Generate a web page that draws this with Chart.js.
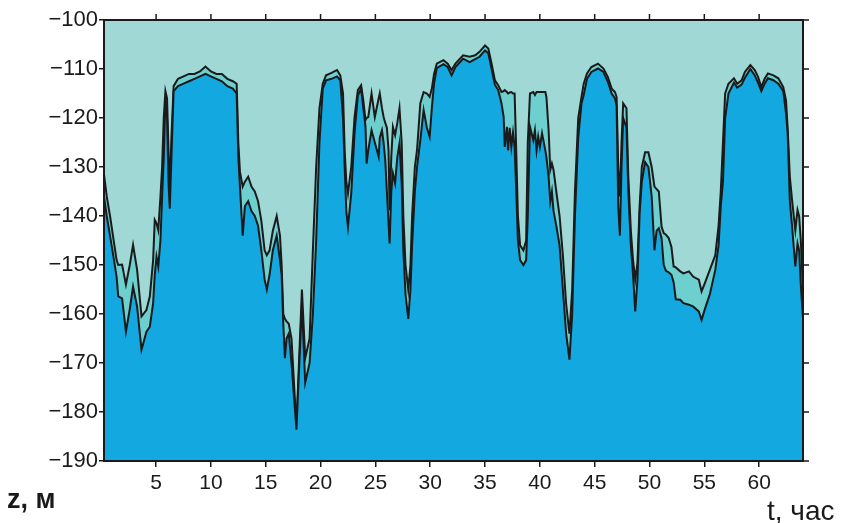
<!DOCTYPE html>
<html><head><meta charset="utf-8">
<script src="https://cdn.jsdelivr.net/npm/chart.js@4.4.1/dist/chart.umd.min.js"></script>
<style>html,body{margin:0;padding:0;background:#fff}</style>
</head><body>
<canvas id="c" width="842" height="523"></canvas>
<script>
// time, hours
const hours = [0.25,0.5,0.8,1.2,1.4,1.55,1.9,2.25,2.6,2.9,3.27,3.67,4.12,4.43,4.73,4.88,5.04,5.2,5.4,5.55,5.7,5.85,6.0,6.15,6.25,6.4,6.6,7.0,7.5,8.0,8.5,9.0,9.5,10.0,10.5,11.0,11.5,12.0,12.35,12.5,12.65,12.9,13.1,13.4,13.7,14.0,14.3,14.6,14.9,15.1,15.35,15.65,16.0,16.3,16.45,16.6,16.75,16.9,17.1,17.35,17.8,18.3,18.6,19.0,19.3,19.6,19.9,20.2,20.5,21.0,21.5,21.8,22.05,22.2,22.35,22.5,22.8,23.1,23.4,23.7,23.9,24.1,24.2,24.35,24.65,24.95,25.3,25.4,25.6,25.75,25.9,26.05,26.2,26.3,26.45,26.6,26.8,27.0,27.2,27.4,27.55,27.75,28.0,28.2,28.35,28.6,28.8,29.1,29.4,29.7,29.95,30.15,30.35,30.6,31.2,31.6,31.95,32.3,33.0,33.6,34.1,34.5,35.0,35.3,35.6,35.9,36.2,36.5,36.7,36.8,37.0,37.1,37.25,37.4,37.55,37.7,37.85,38.0,38.2,38.5,38.75,38.9,39.1,39.4,39.55,39.7,39.85,40.0,40.2,40.5,40.6,40.8,40.95,41.1,41.25,41.5,41.8,42.1,42.4,42.7,42.95,43.2,43.5,43.8,44.0,44.3,44.7,45.3,45.8,46.2,46.55,46.85,47.0,47.15,47.3,47.45,47.6,47.9,48.07,48.3,48.5,48.7,48.9,49.1,49.3,49.6,49.9,50.2,50.45,50.65,50.85,51.1,51.3,51.5,51.75,52.0,52.2,52.4,52.8,53.1,53.6,54.0,54.5,54.75,55.05,55.5,56.0,56.3,56.5,56.7,56.9,57.2,57.7,58.0,58.4,58.7,59.2,59.6,59.9,60.2,60.5,60.8,61.3,61.75,62.2,62.45,62.6,62.8,63.0,63.3,63.5,63.65,63.8,64.0];
// upper boundary, m
const zTop = [-131.5,-136,-140,-146,-149,-150,-149.9,-154,-150,-145.9,-151,-160.5,-159.2,-156.4,-149,-140.8,-141.5,-142.9,-136,-130,-120,-114.5,-116,-128,-134,-124,-113.5,-112,-111.5,-111,-111,-110.5,-109.5,-110.5,-111,-111,-112,-112.5,-113,-125,-131,-134,-133,-132,-134,-135,-137,-141,-147,-148,-147,-143,-140,-144,-150,-160,-161,-161.5,-162,-165,-183,-155,-169,-165,-147,-130,-118,-113,-111.3,-110.8,-110.2,-111.3,-115,-126.6,-133,-135.4,-130,-119.8,-114.3,-113.3,-116.4,-120.4,-120,-119.8,-115,-119.8,-116,-115,-118,-119.8,-121,-122,-126.6,-138.8,-128,-121.8,-123.5,-121,-118,-125,-140,-150,-155,-150,-140,-130,-126.5,-117,-114.7,-115,-115.7,-114,-111,-108.9,-108.2,-108.9,-110.2,-108.9,-107.2,-107.5,-107.2,-106.5,-105.2,-105.8,-108.9,-112.3,-113.3,-114.7,-114.5,-114.3,-114.7,-115,-114.8,-114.7,-115,-115,-127,-140,-146,-147,-145,-125,-115,-114.7,-115.3,-114.7,-114.7,-114.7,-114.7,-114.7,-115.7,-122.5,-130.6,-129.3,-130.6,-135,-140,-148,-158,-164,-155,-135,-120,-115.7,-113,-110.9,-109.6,-108.9,-109.9,-111.6,-114,-114.7,-115.7,-130,-136,-125,-117,-118,-132,-143,-149,-153,-149.6,-138,-130,-127,-127,-130,-134,-134.5,-135,-142.2,-143.5,-143.8,-144.5,-146.3,-150.3,-150.5,-151.3,-151.7,-151.3,-152.4,-153,-155.4,-153.7,-151,-148,-142,-135,-125,-115,-113,-111.9,-113,-112.3,-110.6,-109.2,-110.2,-111.6,-113.7,-112,-110.9,-111.3,-111.9,-113.7,-116.4,-122,-132,-136.7,-142.9,-138.8,-140.1,-145,-155];
// lower boundary, m
const zBottom = [-136,-140,-144,-149.5,-152.4,-156.4,-156.8,-163.6,-159,-154.4,-158.5,-167.3,-163.6,-162.6,-157.8,-152,-148.3,-150.3,-144.9,-136,-128,-116,-120,-134,-138.5,-128,-114.5,-113.5,-113,-112.5,-112,-111.5,-111,-111.5,-112,-112.5,-113.5,-114,-115,-128,-134,-144,-138,-137,-139,-140,-142,-147,-153,-155,-152,-147,-144,-149,-152,-162,-169,-165,-164,-170,-183.6,-158,-174,-170,-160,-145,-125,-114,-112.3,-112,-111.5,-112.3,-120,-130,-139,-142.2,-135.4,-123.1,-115.4,-114,-118,-121.8,-129.3,-126.6,-122.5,-125,-127.9,-124,-122.5,-125,-128.6,-135,-141.5,-145.6,-135,-131.3,-133.3,-128,-125.2,-133.3,-147,-156,-161,-155,-146,-135,-130,-124.5,-118.4,-122,-123.8,-118,-113,-109.8,-109,-109.6,-111.3,-109.6,-107.9,-108.6,-108,-107.5,-106.2,-106.8,-110,-113.2,-114.3,-117,-119.8,-125.9,-121.8,-126.6,-122,-125.9,-123,-126,-135,-145,-149,-150,-149,-140,-121.8,-124.5,-122.5,-126.6,-123.8,-125.9,-123.1,-126.6,-128,-132,-137,-135,-139,-142,-146,-155,-164,-169.3,-160,-140,-124,-117,-115.3,-112,-110.6,-109.9,-110.6,-112.6,-115,-116,-117.5,-138,-144,-130,-120,-122,-135,-146,-152,-159.5,-153,-139.5,-133,-129,-130,-136,-147,-143,-142.5,-144.5,-150,-151.2,-151.5,-152,-153.5,-157,-157.1,-157.8,-158.1,-158.5,-159.5,-161.2,-159,-156,-151,-146,-138,-133,-120,-115,-112.8,-113.8,-113.2,-111.8,-110,-111.3,-112.8,-114.5,-113,-111.9,-112.3,-113,-114.5,-119,-123.1,-137,-142,-150.3,-145.6,-147,-154,-161];
const xTickValues = [5,10,15,20,25,30,35,40,45,50,55,60];
const yTickValues = [-190,-180,-170,-160,-150,-140,-130,-120,-110,-100];
const xTitle = 't, час';
const yTitle = 'z, м';

const FONT = "'Liberation Sans', Arial, sans-serif";
const INK = '#1a1a1a';

const bgPlugin = {
  id: 'bg',
  beforeDraw(chart) {
    const {ctx, chartArea: a} = chart;
    ctx.save();
    ctx.fillStyle = '#9fd8d5';
    ctx.fillRect(a.left, a.top, a.right - a.left, a.bottom - a.top);
    ctx.restore();
  }
};
const framePlugin = {
  id: 'frame',
  afterDraw(chart) {
    const {ctx, chartArea: a, scales} = chart;
    ctx.save();
    ctx.strokeStyle = INK;
    ctx.lineWidth = 2;
    ctx.strokeRect(a.left, a.top, a.right - a.left, a.bottom - a.top);
    ctx.lineWidth = 1.5;
    ctx.beginPath();
    xTickValues.forEach(v => {
      const x = scales.x.getPixelForValue(v);
      ctx.moveTo(x, a.top); ctx.lineTo(x, a.top - 6);
    });
    yTickValues.forEach(v => {
      const y = scales.y.getPixelForValue(v);
      ctx.moveTo(a.right, y); ctx.lineTo(a.right + 6, y);
    });
    ctx.stroke();
    ctx.fillStyle = INK;
    ctx.textAlign = 'left';
    ctx.textBaseline = 'alphabetic';
    ctx.font = "bold 27px " + FONT;
    ctx.fillText(yTitle, 7, 508);
    ctx.font = "28px " + FONT;
    ctx.fillText(xTitle, 767, 520);
    ctx.restore();
  }
};

new Chart(document.getElementById('c'), {
  type: 'line',
  data: {
    datasets: [
      {
        label: 'lower',
        data: hours.map((t, i) => ({x: t, y: zBottom[i]})),
        borderColor: INK, borderWidth: 2, pointRadius: 0, tension: 0,
        backgroundColor: '#14a8e0', fill: 'start'
      },
      {
        label: 'upper',
        data: hours.map((t, i) => ({x: t, y: zTop[i]})),
        borderColor: INK, borderWidth: 2, pointRadius: 0, tension: 0,
        backgroundColor: '#6ecfcf', fill: '-1'
      }
    ]
  },
  options: {
    responsive: false,
    animation: false,
    events: [],
    layout: {padding: {top: 20, right: 39, left: 0, bottom: 0}},
    plugins: {legend: {display: false}, tooltip: {enabled: false}},
    scales: {
      x: {
        type: 'linear', min: 0.25, max: 64,
        afterFit(s) { s.height = 62; },
        afterBuildTicks(s) { s.ticks = xTickValues.map(v => ({value: v})); },
        ticks: {color: INK, font: {family: FONT, size: 21}, padding: 4, maxRotation: 0, autoSkip: false},
        grid: {drawOnChartArea: false, drawTicks: true, tickLength: 6, color: INK, lineWidth: 1.5},
        border: {color: INK, width: 2}
      },
      y: {
        type: 'linear', min: -190, max: -100,
        afterFit(s) { s.width = 104; },
        afterBuildTicks(s) { s.ticks = yTickValues.map(v => ({value: v})); },
        ticks: {color: INK, font: {family: FONT, size: 22}, padding: 1, callback: v => String(v).replace('-', '\u2212'), autoSkip: false},
        grid: {drawOnChartArea: false, drawTicks: true, tickLength: 5, color: INK, lineWidth: 1.5},
        border: {color: INK, width: 2}
      }
    }
  },
  plugins: [bgPlugin, framePlugin]
});
</script>
</body></html>
